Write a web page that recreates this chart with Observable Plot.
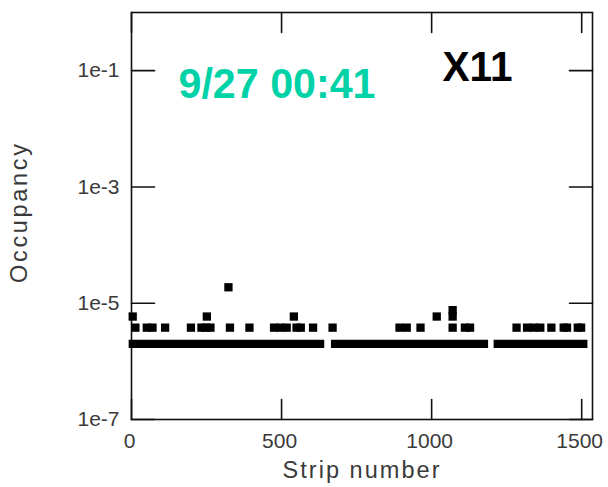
<!DOCTYPE html>
<html><head><meta charset="utf-8">
<script src="https://cdn.jsdelivr.net/npm/d3@7"></script>
<script src="https://cdn.jsdelivr.net/npm/@observablehq/plot@0.6"></script>
<style>html,body{margin:0;padding:0;background:#fff;overflow:hidden} svg{display:block}</style>
</head><body><div id="chart"></div>
<script>
// ---- data ----
const xDomain = [0, 1536];
const yDomain = [1e-7, 1];
const xTicks = [0, 500, 1000, 1500];
const xTickLabels = ["0", "500", "1000", "1500"];
const yTicks = [1e-1, 1e-3, 1e-5, 1e-7];
const yTickLabels = ["1e-1", "1e-3", "1e-5", "1e-7"];
// continuous runs of strips at the base occupancy level
const baseStart = [6, 680, 1222];
const baseEnd = [630, 1176, 1507];
const baseValue = 2.0e-6;
// individual strips above the base level
const hitStrips = [13, 51, 70, 112, 198, 233, 248, 263, 328, 393, 475, 496, 517, 550, 564, 605, 670,
  893, 917, 963, 1070, 1111, 1128, 1283, 1318, 1340, 1362, 1399, 1440, 1451, 1487, 1498,
  4, 251, 541, 1017, 1070,
  1070,
  323];
const hitValues = [3.8e-6, 3.8e-6, 3.8e-6, 3.8e-6, 3.8e-6, 3.8e-6, 3.8e-6, 3.8e-6, 3.8e-6, 3.8e-6, 3.8e-6, 3.8e-6, 3.8e-6, 3.8e-6, 3.8e-6, 3.8e-6, 3.8e-6,
  3.8e-6, 3.8e-6, 3.8e-6, 3.8e-6, 3.8e-6, 3.8e-6, 3.8e-6, 3.8e-6, 3.8e-6, 3.8e-6, 3.8e-6, 3.8e-6, 3.8e-6, 3.8e-6, 3.8e-6,
  5.9e-6, 5.9e-6, 5.9e-6, 5.9e-6, 5.9e-6,
  7.6e-6,
  1.88e-5];
const titleText = "9/27 00:41";
const tagText = "X11";
const xLabel = "Strip number";
const yLabel = "Occupancy";

// ---- build tables ----
const runs = baseStart.map((s, i) => ({x1: s, x2: baseEnd[i], y: baseValue}));
const hits = hitStrips.map((s, i) => ({x: s, y: hitValues[i]}));
const xT = xTicks.map((v, i) => ({v, label: xTickLabels[i]}));
const yT = yTicks.map((v, i) => ({v, label: yTickLabels[i]}));

const font = "'Liberation Sans', Arial, Helvetica, sans-serif";
const ink = "#111";
const labelInk = "#3a3a3a";
const tickShape = {draw(context, l) { context.moveTo(0, 0); context.lineTo(0, -l); }};

const chart = Plot.plot({
  width: 608,
  height: 487,
  marginLeft: 131,
  marginRight: 16,
  marginTop: 12,
  marginBottom: 68,
  style: {fontFamily: font, background: "#fff", color: ink},
  x: {domain: xDomain, axis: null},
  y: {type: "log", domain: yDomain, axis: null},
  marks: [
    Plot.frame({stroke: ink, strokeWidth: 1.6}),
    // inward ticks
    Plot.vector(xT, {x: "v", y: yDomain[0], length: 20, rotate: 0, anchor: "start", shape: tickShape, stroke: ink, strokeWidth: 1.6}),
    Plot.vector(xT, {x: "v", y: yDomain[1], length: 20, rotate: 180, anchor: "start", shape: tickShape, stroke: ink, strokeWidth: 1.6}),
    Plot.vector(yT, {x: xDomain[0], y: "v", length: 23, rotate: 90, anchor: "start", shape: tickShape, stroke: ink, strokeWidth: 1.6}),
    Plot.vector(yT, {x: xDomain[1], y: "v", length: 23, rotate: -90, anchor: "start", shape: tickShape, stroke: ink, strokeWidth: 1.6}),
    // tick labels
    Plot.text(xT, {x: "v", y: yDomain[0], text: "label", dy: 14, dx: -2, lineAnchor: "top", fontSize: 21, fill: labelInk}),
    Plot.text(yT, {x: xDomain[0], y: "v", text: "label", dx: -12, textAnchor: "end", fontSize: 21, fill: labelInk}),
    // axis labels
    Plot.text([xLabel], {frameAnchor: "bottom", text: d => d, dy: 42, dx: -1, lineAnchor: "top", fontSize: 23.5, fill: labelInk}),
    Plot.text([yLabel], {frameAnchor: "left", text: d => d, rotate: -90, dx: -121, dy: -2.5, lineAnchor: "top", textAnchor: "middle", fontSize: 23.5, fill: labelInk}),
    // data
    Plot.ruleY(runs, {x1: "x1", x2: "x2", y: "y", stroke: "#000", strokeWidth: 8.3, strokeLinecap: "square"}),
    Plot.dot(hits, {x: "x", y: "y", symbol: "square", r: 4.68, fill: "#000", stroke: null}),
    // annotations
    Plot.text([titleText], {frameAnchor: "top-left", text: d => d, dx: 47, dy: 85, textAnchor: "start", lineAnchor: "bottom", fontSize: 42, fontWeight: "bold", fill: "#00d2a8"}),
    Plot.text([tagText], {frameAnchor: "top-left", text: d => d, dx: 311, dy: 68, textAnchor: "start", lineAnchor: "bottom", fontSize: 42, fontWeight: "bold", fill: "#000"})
  ]
});
document.getElementById("chart").appendChild(chart);
const lengths = new Map([[titleText, [197, "spacingAndGlyphs"]], [tagText, [70, "spacingAndGlyphs"]], [xLabel, [157, "spacing"]], [yLabel, [139, "spacing"]]]);
d3.select(chart).selectAll("text").each(function() {
  const spec = lengths.get(this.textContent);
  if (spec) d3.select(this).attr("textLength", spec[0]).attr("lengthAdjust", spec[1]);
});
</script>
</body></html>
